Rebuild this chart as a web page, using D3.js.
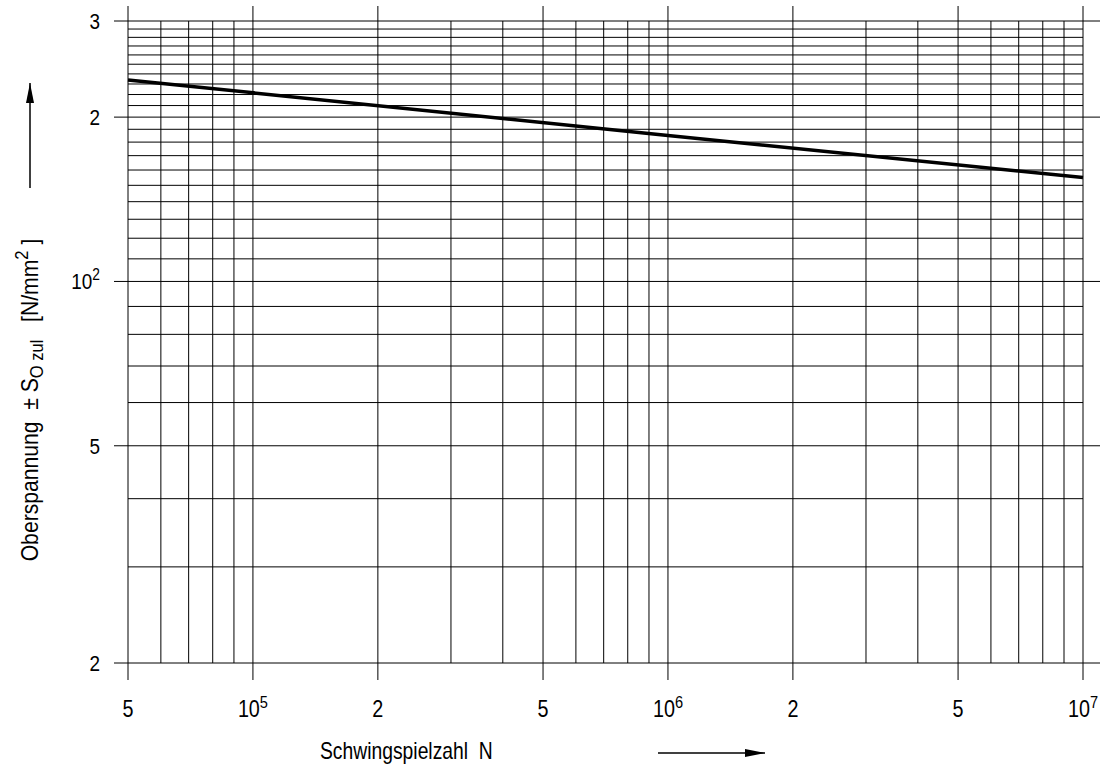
<!DOCTYPE html>
<html>
<head>
  <meta charset="utf-8">
  <title>Oberspannung / Schwingspielzahl</title>
  <script src="https://d3js.org/d3.v7.min.js"></script>
  <style>
    body { margin: 0; background: #fff; }
    svg text { font-family: "Liberation Sans Narrow", "Arial Narrow", "Liberation Sans", sans-serif; fill: #000; white-space: pre; }
  </style>
</head>
<body>
<svg id="chart" width="1106" height="774"></svg>
<script>
// line (N, stress in N/mm2)
var cycles = [5e4, 1e6, 1e7];
var stress = [234, 185, 155];

// labelled ticks: [base, exponent]
var xTicks = [5e4, 1e5, 2e5, 5e5, 1e6, 2e6, 5e6, 1e7];
var xLabels = [["5", ""], ["10", "5"], ["2", ""], ["5", ""], ["10", "6"], ["2", ""], ["5", ""], ["10", "7"]];
var yTicks = [20, 50, 100, 200, 300];
var yLabels = [["2", ""], ["5", ""], ["10", "2"], ["2", ""], ["3", ""]];

var svg = d3.select("#chart");
var m = { left: 128, right: 1083, top: 21, bottom: 663 };

var x = d3.scaleLog().domain([5e4, 1e7]).range([m.left, m.right]);
var y = d3.scaleLog().domain([20, 300]).range([m.bottom, m.top]);

// grid
var xGrid = x.ticks();
var yGrid = d3.range(20, 100, 10).concat(d3.range(100, 301, 10));

var grid = svg.append("g").attr("stroke", "#000").attr("stroke-width", 1);
grid.selectAll("line.v").data(xGrid).join("line")
  .attr("x1", function(d) { return x(d); })
  .attr("x2", function(d) { return x(d); })
  .attr("y1", function(d) { return xTicks.indexOf(d) >= 0 ? 6 : m.top; })
  .attr("y2", function(d) { return xTicks.indexOf(d) >= 0 ? 680 : m.bottom; });
grid.selectAll("line.h").data(yGrid).join("line")
  .attr("y1", function(d) { return y(d); })
  .attr("y2", function(d) { return y(d); })
  .attr("x1", function(d) { return yTicks.indexOf(d) >= 0 ? 114 : m.left; })
  .attr("x2", function(d) { return yTicks.indexOf(d) >= 0 ? 1100 : m.right; });

// tick labels
var xl = svg.append("g").selectAll("text").data(xTicks).join("text")
  .attr("transform", function(d) { return "translate(" + x(d) + ",717) scale(0.86,1)"; })
  .attr("text-anchor", "middle")
  .style("font-size", "23px");
xl.append("tspan").text(function(d, i) { return xLabels[i][0]; });
xl.append("tspan").attr("dy", -9).style("font-size", "17px")
  .text(function(d, i) { return xLabels[i][1]; });

var yl = svg.append("g").selectAll("text").data(yTicks).join("text")
  .attr("transform", function(d) { return "translate(100," + (y(d) + 8) + ") scale(0.86,1)"; })
  .attr("text-anchor", "end")
  .style("font-size", "22px");
yl.append("tspan").text(function(d, i) { return yLabels[i][0]; });
yl.append("tspan").attr("dy", -9).style("font-size", "16px")
  .text(function(d, i) { return yLabels[i][1]; });

// curve
var line = d3.line()
  .x(function(d) { return x(d[0]); })
  .y(function(d) { return y(d[1]); });
svg.append("path")
  .datum(d3.zip(cycles, stress))
  .attr("d", line)
  .attr("fill", "none")
  .attr("stroke", "#000")
  .attr("stroke-width", 3.5);

// arrow heads
svg.append("defs").append("marker")
  .attr("id", "arr")
  .attr("viewBox", "0 0 20 8")
  .attr("refX", 20).attr("refY", 4)
  .attr("markerWidth", 20).attr("markerHeight", 8)
  .attr("markerUnits", "userSpaceOnUse")
  .attr("orient", "auto")
  .append("path").attr("d", "M0,0 L20,4 L0,8 Z").attr("fill", "#000");

// x title
var xt = svg.append("text").attr("transform", "translate(320,759) scale(0.84,1)").style("font-size", "23px");
xt.append("tspan").text("Schwingspielzahl  N");
svg.append("line").attr("x1", 658).attr("x2", 765).attr("y1", 753).attr("y2", 753)
  .attr("stroke", "#000").attr("stroke-width", 1.5).attr("marker-end", "url(#arr)");

// y title
var yt = svg.append("text")
  .attr("transform", "translate(38,400) rotate(-90) scale(0.92,1)")
  .attr("text-anchor", "middle")
  .style("font-size", "23px");
yt.append("tspan").text("Oberspannung  \u00b1 S");
yt.append("tspan").attr("dy", 5).style("font-size", "18px").text("O zul");
yt.append("tspan").attr("dy", -5).text("   [N/mm");
yt.append("tspan").attr("dy", -10).style("font-size", "18px").text("2");
yt.append("tspan").attr("dy", 10).text(" ]");
svg.append("line").attr("x1", 30).attr("x2", 30).attr("y1", 188).attr("y2", 83)
  .attr("stroke", "#000").attr("stroke-width", 1.5).attr("marker-end", "url(#arr)");
</script>
</body>
</html>
